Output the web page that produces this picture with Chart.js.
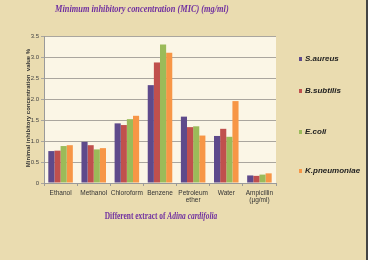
<!DOCTYPE html>
<html>
<head>
<meta charset="utf-8">
<script src="https://cdn.jsdelivr.net/npm/chart.js@4"></script>
<style>
  html, body { margin: 0; padding: 0; background: #eadcb0; }
  #wrap { width: 368px; height: 260px; position: relative; }
</style>
</head>
<body>
<div id="wrap"><canvas id="mycanvas" width="368" height="260"></canvas></div>
<script>
// extracts (x categories)
var extracts = ["Ethanol", "Methanol", "Chloroform", "Benzene", ["Petroleum", "ether"], "Water", ["Ampicillin", "(\u00b5g/ml)"]];
var yTicks = [0, 0.5, 1, 1.5, 2, 2.5, 3, 3.5];

// MIC values per organism
var sAureus     = [0.76, 0.98, 1.42, 2.33, 1.58, 1.12, 0.18];
var bSubtilis   = [0.77, 0.90, 1.38, 2.87, 1.33, 1.29, 0.17];
var eColi       = [0.88, 0.80, 1.52, 3.30, 1.35, 1.10, 0.20];
var kPneumoniae = [0.90, 0.83, 1.60, 3.10, 1.13, 1.95, 0.23];

var colors = ["#5e4a8b", "#c0504d", "#9bbb59", "#f79646"];

var bg = {
  id: "bg",
  beforeDraw: function(chart) {
    var c = chart.ctx, a = chart.chartArea;
    c.save();
    c.fillStyle = "#eadcb0";
    c.fillRect(0, 0, chart.width, chart.height);
    c.fillStyle = "#fbf6e6";
    c.fillRect(a.left, a.top, a.right - a.left, a.bottom - a.top);
    c.restore();
  },
  afterDraw: function(chart) {
    var c = chart.ctx;
    // title, condensed
    c.save();
    c.fillStyle = "#7030a0";
    c.textBaseline = "middle";
    c.translate(55, 9);
    c.scale(0.76, 1);
    c.font = "italic bold 11px 'Liberation Serif'";
    c.fillText("Minimum inhibitory concentration (MIC) (mg/ml)", 0, 0);
    c.restore();
    // x axis title, mixed style, condensed
    c.save();
    c.fillStyle = "#7030a0";
    c.textBaseline = "middle";
    var p1 = "Different extract of ", p2 = "Adina cardifolia";
    c.font = "bold 10px 'Liberation Serif'";
    var w1 = c.measureText(p1).width;
    c.font = "italic bold 10px 'Liberation Serif'";
    var w2 = c.measureText(p2).width;
    var k = 0.74;
    c.translate(161 - (w1 + w2) * k / 2, 216);
    c.scale(k, 1);
    c.font = "bold 10px 'Liberation Serif'";
    c.fillText(p1, 0, 0);
    c.font = "italic bold 10px 'Liberation Serif'";
    c.fillText(p2, w1, 0);
    c.restore();
    // y axis title
    c.save();
    c.translate(28, 108);
    c.rotate(-Math.PI / 2);
    c.fillStyle = "#333";
    c.font = "bold 6px 'Liberation Sans'";
    c.textAlign = "center";
    c.textBaseline = "middle";
    c.fillText("Minimal inhibitory concentration  value %", 0, 0);
    c.restore();
    // legend
    var ys = [59, 91, 132, 171];
    c.save();
    c.font = "italic bold 8px 'Liberation Sans'";
    c.textBaseline = "middle";
    chart.data.datasets.forEach(function(ds, i) {
      c.fillStyle = ds.backgroundColor;
      c.fillRect(299, ys[i] - 2, 3, 4);
      c.fillStyle = "#222";
      c.fillText(ds.label, 305, ys[i]);
    });
    c.restore();
    // right border
    c.save();
    c.fillStyle = "#444";
    c.fillRect(366, 0, 2, 260);
    c.restore();
  }
};

var chartdata = {
  labels: extracts,
  datasets: [
    { label: "S.aureus", backgroundColor: colors[0], data: sAureus },
    { label: "B.subtilis", backgroundColor: colors[1], data: bSubtilis },
    { label: "E.coli", backgroundColor: colors[2], data: eColi },
    { label: "K.pneumoniae", backgroundColor: colors[3], data: kPneumoniae }
  ]
};

var ctx = document.getElementById("mycanvas");
var barGraph = new Chart(ctx, {
  type: "bar",
  data: chartdata,
  plugins: [bg],
  options: {
    responsive: false,
    animation: false,
    layout: { padding: { left: 0, top: 36, right: 92, bottom: 0 } },
    datasets: { bar: { categoryPercentage: 0.74, barPercentage: 1.0 } },
    plugins: { legend: { display: false }, tooltip: { enabled: false } },
    scales: {
      x: {
        afterFit: function(s) { s.height = 77; },
        grid: { display: true, drawOnChartArea: false, offset: true, color: "#9a9a9a", tickLength: 3 },
        border: { color: "#9a9a9a" },
        ticks: { color: "#333", font: { size: 6.5, family: "'Liberation Sans'" }, padding: 3, maxRotation: 0, autoSkip: false }
      },
      y: {
        min: 0,
        max: 3.5,
        afterFit: function(s) { s.width = 44; },
        afterBuildTicks: function(s) { s.ticks = yTicks.map(function(v) { return { value: v }; }); },
        grid: { color: "#aaa69e", tickLength: 3 },
        border: { color: "#9a9a9a" },
        ticks: { color: "#444", font: { size: 6, family: "'Liberation Sans'" }, padding: 2 }
      }
    }
  }
});
</script>
</body>
</html>
